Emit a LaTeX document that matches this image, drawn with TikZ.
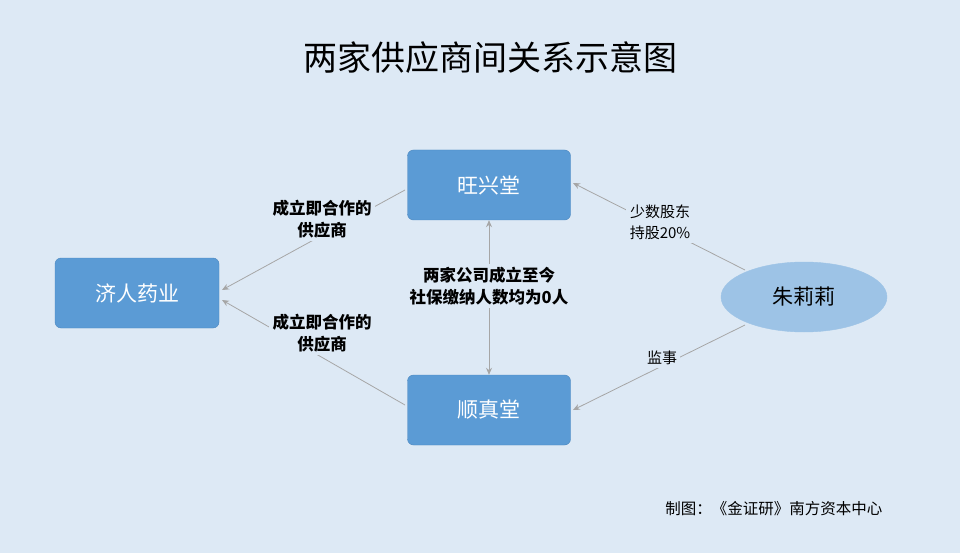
\documentclass[tikz,border=0pt]{standalone}
\usepackage{fontspec}
\setmainfont{Noto Sans CJK SC}
\usetikzlibrary{arrows.meta, shapes.geometric}
\definecolor{bgblue}{HTML}{DDE9F5}
\definecolor{boxblue}{HTML}{5B9BD5}
\definecolor{boxedge}{HTML}{4A86BE}
\definecolor{ellblue}{HTML}{9DC3E6}
\definecolor{linegray}{HTML}{A6A6A6}
\tikzset{
    box/.style={draw=boxedge, fill=boxblue, rounded corners=6pt, minimum width=163pt,
        minimum height=70pt, text=white, font=\fontsize{21}{24}\selectfont},
    link/.style={draw=linegray, line width=0.8pt, -{Stealth[length=7pt,width=6pt]}},
    note/.style={fill=bgblue, align=center, font=\fontsize{15}{21}\selectfont},
    bnote/.style={note, font=\bfseries\fontsize{16.5}{22}\selectfont},
}
\begin{document}
\begin{tikzpicture}[x=1pt, y=-1pt]
    \fill[bgblue] (0, 0) rectangle (960, 553);
    \useasboundingbox (0, 0) rectangle (960, 553);

    % Title
    \node[font=\fontsize{34}{38}\selectfont] (title) at (490, 58) {两家供应商间关系示意图};

    % Companies
    \node[box] (wang) at (489, 185) {旺兴堂};
    \node[box] (shun) at (489, 410) {顺真堂};
    \node[box, minimum width=164pt] (jiren) at (137, 293) {济人药业};
    \node[draw=ellblue, fill=ellblue, ellipse, minimum width=166pt, minimum height=70pt,
        font=\fontsize{21}{24}\selectfont] (zhu) at (804, 297) {朱莉莉};

    % Connect Nodes
    \coordinate (wl) at (405, 190);
    \coordinate (sl) at (405, 405);
    \coordinate (zt) at (745, 270);
    \coordinate (zb) at (745, 325);
    \draw[link] (wl) -- (222, 290) coordinate (jt);
    \draw[link] (sl) -- (222, 300) coordinate (jb);
    \draw[link, {Stealth[length=7pt,width=6pt]}-{Stealth[length=7pt,width=6pt]}] (wang) -- (shun);
    \draw[link] (zt) -- (573, 183) coordinate (wr);
    \draw[link] (zb) -- (573, 410) coordinate (sr);

    % Labels
    \node[bnote] (l1) at (322, 219) {成立即合作的\\供应商};
    \node[bnote] (l2) at (322, 333) {成立即合作的\\供应商};
    \node[bnote] (l3) at (489, 286) {两家公司成立至今\\社保缴纳人数均为0人};
    \node[note] (l4) at (660, 222) {少数股东\\持股20\%};
    \node[note] (l5) at (662, 358) {监事};

    % Footer
    \node[anchor=east, font=\fontsize{15.5}{17}\selectfont] (foot) at (886, 509) {制图：《金证研》南方资本中心};
\end{tikzpicture}
\end{document}
